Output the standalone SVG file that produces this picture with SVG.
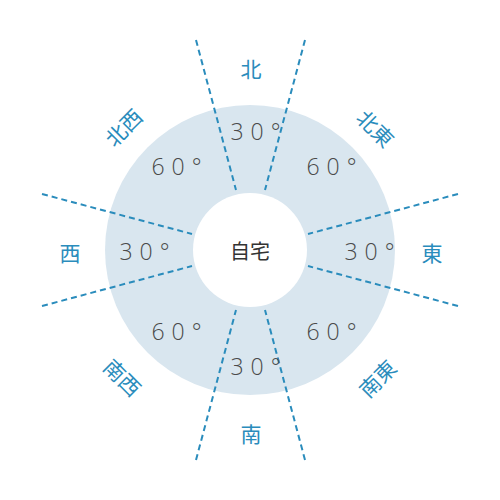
<svg xmlns="http://www.w3.org/2000/svg" width="500" height="500" viewBox="0 0 500 500">
<style>
.dir{font-family:"Noto Sans CJK JP","Noto Sans",sans-serif;font-size:21px;font-weight:400;fill:#2a8cbc;text-anchor:middle;dominant-baseline:central}
.ang{font-family:"Open Sans","Noto Sans",sans-serif;font-size:23px;font-weight:300;fill:#4a4a4a;text-anchor:middle;dominant-baseline:central;letter-spacing:7px}
.cen{font-family:"Noto Sans CJK JP",sans-serif;font-size:20px;font-weight:400;fill:#333;text-anchor:middle;dominant-baseline:central}
.ln{stroke:#2a8cbc;stroke-width:2;stroke-dasharray:6 4;fill:none}
</style>
<rect width="500" height="500" fill="#fff"/>
<g id="ring">
<circle cx="250" cy="250" r="145" fill="#d9e6ef"/>
<circle cx="250" cy="250" r="57" fill="#fff"/>
</g>
<g id="connectors">
<line class="ln" x1="196" y1="40" x2="236" y2="190"/>
<line class="ln" x1="305" y1="40" x2="265" y2="190"/>
<line class="ln" x1="196" y1="460" x2="236" y2="310"/>
<line class="ln" x1="305" y1="460" x2="265" y2="310"/>
<line class="ln" x1="42" y1="194" x2="192" y2="234"/>
<line class="ln" x1="42" y1="306" x2="192" y2="266"/>
<line class="ln" x1="458" y1="194" x2="308" y2="234"/>
<line class="ln" x1="458" y1="306" x2="308" y2="266"/>
</g>
<g id="center"><text class="cen" x="250" y="250">自宅</text></g>
<g id="n"><text class="dir" x="251" y="68">北</text></g>
<g id="ne"><text class="dir" transform="translate(376,128) rotate(45)">北東</text></g>
<g id="e"><text class="dir" x="432" y="252">東</text></g>
<g id="se"><text class="dir" transform="translate(377,378) rotate(-45)">南東</text></g>
<g id="s"><text class="dir" x="251" y="433">南</text></g>
<g id="sw"><text class="dir" transform="translate(123,377) rotate(45)">南西</text></g>
<g id="w"><text class="dir" x="70" y="252">西</text></g>
<g id="nw"><text class="dir" transform="translate(123,127) rotate(-45)">北西</text></g>
<g id="a-n"><text class="ang" x="259" y="131">30°</text></g>
<g id="a-ne"><text class="ang" x="335" y="166">60°</text></g>
<g id="a-e"><text class="ang" x="373" y="251">30°</text></g>
<g id="a-se"><text class="ang" x="335" y="331">60°</text></g>
<g id="a-s"><text class="ang" x="259" y="366">30°</text></g>
<g id="a-sw"><text class="ang" x="180" y="331">60°</text></g>
<g id="a-w"><text class="ang" x="148" y="251">30°</text></g>
<g id="a-nw"><text class="ang" x="180" y="166">60°</text></g>
</svg>
